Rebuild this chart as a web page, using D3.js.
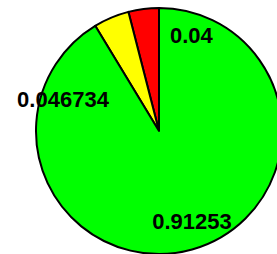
<!DOCTYPE html>
<html>
<head>
<meta charset="utf-8">
<script src="https://cdn.jsdelivr.net/npm/d3@7"></script>
<style>
  html, body { margin: 0; padding: 0; background: #fff; overflow: hidden; }
  svg { display: block; }
  text { font-family: "Liberation Sans", Arial, sans-serif; font-weight: bold; font-size: 22px; fill: #000; }
</style>
</head>
<body>
<div id="chart"></div>
<script>
const labels = ["0.04", "0.046734", "0.91253"];
const values = [0.04, 0.046734, 0.91253];
const colors = ["#ff0000", "#ffff00", "#00ff00"];

const width = 277, height = 254;
const cx = 159, cy = 131, radius = 123;

const svg = d3.select("#chart").append("svg")
  .attr("width", width).attr("height", height);

const g = svg.append("g").attr("transform", `translate(${cx},${cy})`);

// slices run counter-clockwise from 12 o'clock
const pie = d3.pie().sort(null).startAngle(0).endAngle(-2 * Math.PI);
const arcs = pie(values);
const arc = d3.arc().innerRadius(0).outerRadius(radius);

g.selectAll("path")
  .data(arcs)
  .join("path")
  .attr("d", arc)
  .attr("fill", (d, i) => colors[i])
  .attr("stroke", "#000")
  .attr("stroke-width", 2)
  .attr("stroke-linejoin", "round");

// label anchor (left of text baseline), polar offsets from the centre
const labelPlace = [
  { a: 7.1, r: 0.72 },
  { a: -80.4, r: 1.17 },
  { a: 184, r: 0.80 }
];

g.selectAll("text")
  .data(arcs)
  .join("text")
  .attr("x", (d, i) => Math.sin(labelPlace[i].a * Math.PI / 180) * labelPlace[i].r * radius)
  .attr("y", (d, i) => -Math.cos(labelPlace[i].a * Math.PI / 180) * labelPlace[i].r * radius)
  .text((d, i) => labels[i]);
</script>
</body>
</html>
